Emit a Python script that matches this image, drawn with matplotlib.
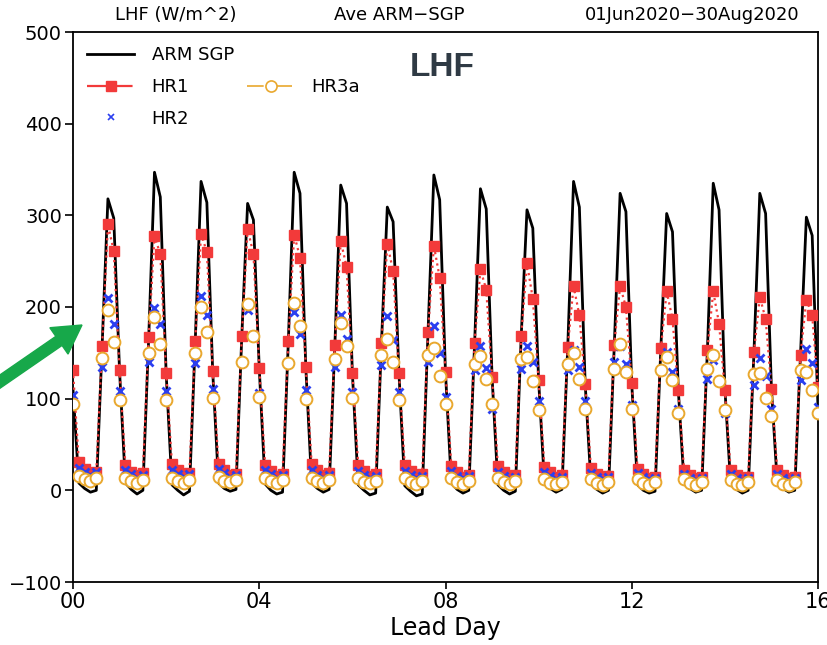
import numpy as np
import matplotlib
matplotlib.use("Agg")
import matplotlib.pyplot as plt
from matplotlib.lines import Line2D
from matplotlib.patches import FancyArrow

# 3-hourly values (00,03,06,09,12,15,18,21 UTC) for lead days 0..15, plus day 16 00UTC
arm = [110, 8, 2, -2, 0, 157, 318, 297,
       130, 8, 1, -4, 0, 165, 347, 320,
       128, 6, 0, -5, -1, 162, 337, 314,
       130, 8, 2, -1, 1, 168, 313, 295,
       133, 7, 0, -4, -2, 163, 347, 324,
       134, 8, 2, -2, 1, 160, 333, 313,
       128, 6, 0, -5, -3, 161, 309, 293,
       128, 5, -1, -6, -4, 173, 344, 317,
       128, 8, 1, -3, 0, 160, 329, 307,
       124, 6, 0, -4, -1, 167, 306, 286,
       120, 8, 2, -2, 1, 156, 337, 309,
       116, 7, 1, -3, 0, 158, 324, 304,
       116, 6, 0, -3, -1, 155, 302, 282,
       109, 7, 2, -2, 0, 153, 335, 306,
       111, 6, 1, -3, 0, 151, 324, 302,
       111, 8, 2, -2, 0, 148, 298, 278,
       90]

hr1 = [131, 31, 23, 18, 20, 157, 290, 261,
       131, 28, 20, 17, 19, 167, 277, 258,
       128, 29, 22, 17, 19, 163, 280, 260,
       130, 29, 22, 17, 18, 168, 285, 258,
       134, 28, 21, 16, 18, 163, 279, 254,
       135, 29, 22, 17, 19, 159, 272, 244,
       128, 28, 21, 16, 18, 161, 269, 239,
       128, 28, 21, 16, 18, 173, 267, 232,
       129, 27, 20, 15, 17, 161, 241, 219,
       124, 27, 20, 15, 17, 168, 248, 209,
       120, 26, 20, 15, 17, 156, 223, 191,
       116, 24, 18, 14, 16, 159, 223, 200,
       117, 23, 18, 13, 15, 155, 217, 187,
       109, 22, 17, 13, 15, 153, 217, 182,
       109, 22, 17, 13, 15, 151, 211, 187,
       111, 22, 17, 13, 15, 148, 208, 191,
       113]

hr2 = [104, 24, 20, 17, 20, 135, 210, 182,
       108, 22, 18, 14, 17, 140, 199, 181,
       108, 22, 18, 15, 18, 139, 212, 191,
       111, 23, 19, 15, 17, 140, 197, 170,
       106, 22, 18, 14, 17, 139, 195, 171,
       109, 22, 17, 14, 17, 135, 191, 165,
       107, 21, 17, 13, 16, 137, 190, 164,
       107, 21, 17, 13, 16, 140, 179, 150,
       102, 21, 16, 13, 16, 131, 158, 134,
       89, 20, 16, 12, 15, 132, 158, 140,
       97, 20, 16, 12, 15, 131, 153, 135,
       98, 19, 15, 12, 15, 140, 157, 138,
       93, 19, 15, 12, 14, 131, 151, 129,
       89, 18, 14, 11, 14, 121, 142, 119,
       84, 18, 14, 11, 14, 115, 144, 125,
       89, 18, 14, 11, 14, 120, 154, 139,
       91]

hr3a = [94, 16, 12, 10, 13, 144, 197, 162,
        99, 14, 10, 8, 11, 150, 189, 160,
        99, 14, 10, 8, 11, 150, 200, 173,
        101, 15, 10, 9, 11, 140, 203, 168,
        102, 14, 10, 8, 11, 139, 204, 179,
        100, 14, 10, 8, 11, 143, 183, 157,
        101, 14, 9, 8, 10, 148, 165, 140,
        99, 13, 9, 7, 10, 148, 155, 125,
        94, 13, 9, 7, 10, 138, 147, 122,
        94, 13, 9, 7, 10, 143, 146, 119,
        88, 12, 8, 7, 9, 138, 150, 122,
        89, 12, 8, 6, 9, 132, 160, 129,
        89, 12, 8, 6, 9, 131, 146, 120,
        84, 12, 8, 6, 9, 132, 148, 119,
        88, 11, 7, 6, 9, 127, 128, 101,
        81, 11, 7, 6, 9, 131, 129, 110,
        84]

lead_day = np.arange(len(arm)) / 8.0
xtick_vals = [0, 4, 8, 12, 16]
xtick_labels = ["00", "04", "08", "12", "16"]
ytick_vals = [-100, 0, 100, 200, 300, 400, 500]

RED = "#f23a3a"
BLUE = "#2b3ff0"
ORANGE = "#e9a82e"

fig = plt.figure(figsize=(8.27, 6.45), dpi=100)
ax = fig.add_axes([73/827, 63/645, 745/827, 550/645])

ax.plot(lead_day, arm, color="black", lw=2.0, zorder=2)
ax.plot(lead_day, hr1, color=RED, lw=1.6, ls=(0, (1, 1.6)), marker="s", ms=7,
        mec=RED, mfc=RED, zorder=3)
ax.plot(lead_day, hr2, ls="none", marker="x", ms=6, mew=2.0, color=BLUE, zorder=4)
ax.plot(lead_day, hr3a, ls="none", marker="o", ms=8.5, mew=1.4, mec=ORANGE,
        mfc="white", zorder=5)

ax.set_xlim(0, 16)
ax.set_ylim(-100, 500)
ax.set_xticks(xtick_vals)
ax.set_xticklabels(xtick_labels, fontsize=15)
ax.set_yticks(ytick_vals)
ax.set_yticklabels([f"{v}".replace("-", "\u2212") for v in ytick_vals], fontsize=14)
ax.tick_params(axis="y", direction="out", length=6, width=1.2, pad=2)
ax.tick_params(axis="x", direction="out", length=5, width=1.2, pad=2)
for s in ax.spines.values():
    s.set_linewidth(1.3)
ax.set_xlabel("Lead Day", fontsize=17, labelpad=3)

handles = [
    Line2D([], [], color="black", lw=2.0),
    Line2D([], [], color=RED, lw=1.6, ls=(0, (9, 2.5)), marker="s", ms=7),
    Line2D([], [], color=BLUE, ls="none", marker="x", ms=5, mew=1.2),
    Line2D([], [], ls="none"),
    Line2D([], [], color=ORANGE, lw=1.2, ls=(0, (10, 3, 1, 3)), marker="o", ms=8,
           mfc="white", mew=1.2),
    Line2D([], [], ls="none"),
]
labels = ["ARM SGP", "HR1", "HR2", "", "HR3a", ""]
ax.legend(handles, labels, loc="upper left", bbox_to_anchor=(0.0, 1.0),
          ncol=2, frameon=False, fontsize=13, handlelength=2.6, handletextpad=0.95,
          labelspacing=0.75, columnspacing=0.75, borderaxespad=0.4)

ax.text(0.495, 0.935, "LHF", transform=ax.transAxes, ha="center", va="center",
        fontsize=24, fontweight="bold", color="#2f3a44", family="Liberation Sans")

fig.text(176/827, 1 - 15/645, "LHF (W/m^2)", ha="center", va="center", fontsize=13)
fig.text(399/827, 1 - 15/645, "Ave ARM\u2212SGP", ha="center", va="center", fontsize=13)
fig.text(800/827, 1 - 15/645, "01Jun2020\u221230Aug2020", ha="right", va="center", fontsize=13)

arrow = FancyArrow(-5, 645 - 385, 87, 60, width=11, head_width=32, head_length=28,
                   length_includes_head=True, color="#17a84a", transform=None)
fig.add_artist(arrow)

fig.savefig("out.png", dpi=100)
